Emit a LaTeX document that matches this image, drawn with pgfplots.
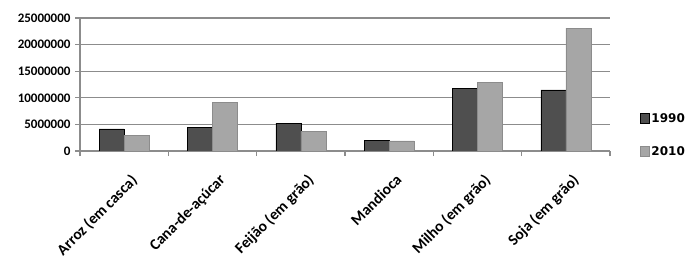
\documentclass[border=0pt]{standalone}
\usepackage{fontspec}
\setmainfont{Carlito}
\newfontfamily\legfont{DejaVu Sans}
\usepackage{pgfplots}
\pgfplotsset{compat=1.18}
\definecolor{darkbar}{HTML}{4F4F4F}
\definecolor{lightbar}{HTML}{A6A6A6}
\definecolor{gridc}{HTML}{8C8C8C}
\begin{document}
\begin{tikzpicture}
\useasboundingbox (0,0) rectangle (700bp,265bp);
\begin{axis}[
  at={(80bp,114bp)}, anchor=south west,
  scale only axis, width=530bp, height=133bp,
  ybar=0pt, bar width=25bp,
  xmin=-0.5, xmax=5.5, ymin=0, ymax=25000000,
  enlarge x limits=false,
  axis x line*=bottom, axis y line*=left,
  axis line style={gridc, line width=1.2bp, -},
  xtick={0,1,2,3,4,5},
  xticklabels={Arroz (em casca),Cana-de-açúcar,Feijão (em grão),Mandioca,Milho (em grão),Soja (em grão)},
  major x tick style={draw=none},
  minor xtick={-0.5,0.5,1.5,2.5,3.5,4.5,5.5},
  minor x tick style={gridc, line width=1.2bp},
  minor tick length=5bp,
  ytick={0,5000000,10000000,15000000,20000000,25000000},
  major tick length=5bp,
  y tick style={gridc, line width=1.2bp},
  tick align=outside,
  ymajorgrids, grid style={gridc, line width=1.2bp},
  scaled y ticks=false,
  /pgf/number format/assume math mode=true,
  yticklabel={\pgfmathprintnumber[fixed,1000 sep={}]{\tick}},
  yticklabel style={font=\fontsize{13bp}{15bp}\selectfont\bfseries, xshift=-1bp},
  xticklabel style={font=\fontsize{15.5bp}{18bp}\selectfont\bfseries, rotate=45, anchor=north east, xshift=-8bp, yshift=-16bp, inner sep=0pt},
  legend style={draw=none, fill=none, at={(1.056,0.12)}, anchor=west,
    font=\fontsize{12bp}{14bp}\legfont\bfseries, row sep=19bp, inner sep=0pt},
  legend cell align=left,
  legend image code/.code={\draw[#1] (0bp,-5bp) rectangle (9bp,5bp);},
]
\addplot[fill=darkbar, draw=black, line width=0.6bp] coordinates {(0,4140000) (1,4380000) (2,5260000) (3,1940000) (4,11840000) (5,11500000)};
\addplot[fill=lightbar, draw=gridc, line width=0.6bp] coordinates {(0,2880000) (1,9150000) (2,3630000) (3,1900000) (4,12840000) (5,23100000)};
\legend{1990,2010}
\end{axis}
\end{tikzpicture}
\end{document}
